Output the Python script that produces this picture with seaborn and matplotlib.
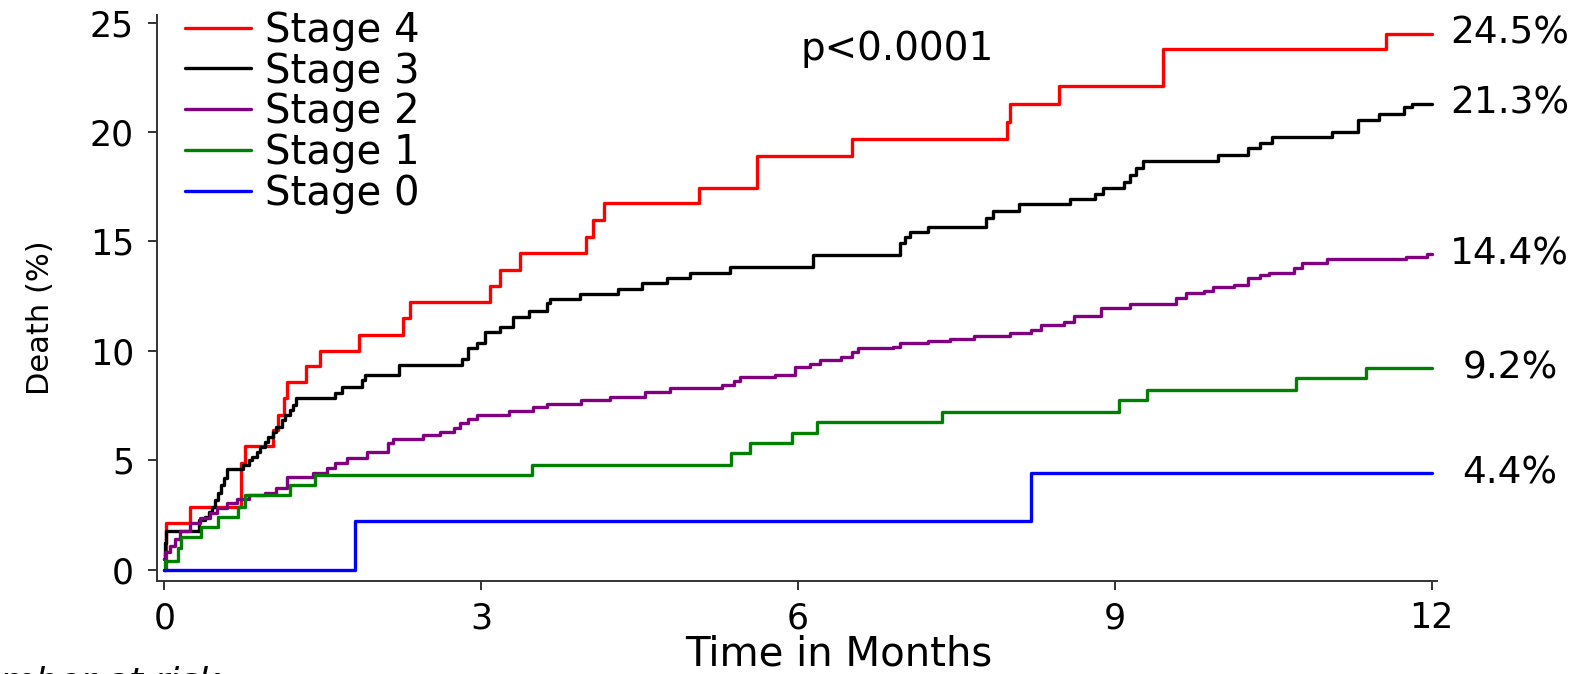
import matplotlib
matplotlib.use("Agg")
import matplotlib.pyplot as plt
import numpy as np
import pandas as pd
import seaborn as sns

# cumulative death (%) by stage
stage4_t = [0, 0.02, 0.24, 0.73, 0.76, 1.03, 1.08, 1.13, 1.16, 1.34, 1.47, 1.84, 2.26, 2.33,
            3.08, 3.18, 3.37, 3.99, 4.06, 4.16, 5.06, 5.61, 6.51, 7.98, 8.01, 8.47, 9.46, 11.57, 12.0]
stage4_v = [0, 2.15, 2.88, 4.86, 5.67, 6.38, 7.07, 7.83, 8.59, 9.31, 10.01, 10.73, 11.49, 12.25,
            12.97, 13.7, 14.49, 15.22, 15.98, 16.75, 17.43, 18.9, 19.68, 20.48, 21.3, 22.1, 23.78, 24.5, 24.5]

stage3_t = [0, 0.01, 0.02, 0.33, 0.385, 0.42, 0.45, 0.48, 0.51, 0.54, 0.565, 0.59, 0.75, 0.80,
            0.83, 0.875, 0.91, 0.95, 0.985, 1.03, 1.06, 1.11, 1.14, 1.19, 1.22, 1.25, 1.62, 1.68,
            1.87, 1.90, 2.22, 2.82, 2.88, 2.96, 3.04, 3.18, 3.30, 3.45, 3.62, 3.65, 3.94, 4.30,
            4.52, 4.76, 4.98, 5.36, 6.14, 6.97, 7.01, 7.06, 7.23, 7.78, 7.85, 8.09, 8.58, 8.81,
            8.89, 9.09, 9.14, 9.20, 9.27, 9.98, 10.26, 10.37, 10.49, 11.06, 11.30, 11.50, 11.74,
            11.81, 12.0]
stage3_v = [0.5, 1.2, 1.78, 2.27, 2.42, 2.65, 2.88, 3.19, 3.49, 3.87, 4.18, 4.6, 4.78, 5.01,
            5.16, 5.39, 5.62, 5.85, 6.08, 6.31, 6.54, 6.84, 7.07, 7.30, 7.53, 7.83, 8.06, 8.36,
            8.67, 8.9, 9.33, 9.62, 10.14, 10.35, 10.88, 11.1, 11.56, 11.84, 12.17, 12.36, 12.59, 12.82,
            13.09, 13.34, 13.54, 13.85, 14.38, 14.92, 15.22, 15.45, 15.68, 16.06, 16.41, 16.70, 16.93, 17.17,
            17.46, 17.73, 18.04, 18.35, 18.69, 18.95, 19.26, 19.52, 19.76, 20.02, 20.55, 20.83, 21.13,
            21.3, 21.3]

stage2_t = [0, 0.01, 0.05, 0.10, 0.15, 0.24, 0.34, 0.43, 0.50, 0.59, 0.69, 0.80, 0.95, 1.06,
            1.16, 1.41, 1.54, 1.62, 1.73, 1.92, 2.12, 2.17, 2.45, 2.61, 2.74, 2.80, 2.88, 2.96,
            3.26, 3.49, 3.62, 3.95, 4.22, 4.55, 4.79, 5.28, 5.39, 5.45, 5.78, 5.97, 6.11, 6.21,
            6.41, 6.51, 6.57, 6.90, 6.97, 7.23, 7.44, 7.67, 8.01, 8.21, 8.30, 8.52, 8.61, 8.87,
            9.14, 9.58, 9.67, 9.84, 9.93, 10.13, 10.26, 10.37, 10.46, 10.70, 10.77, 11.01, 11.76,
            11.96, 12.0]
stage2_v = [0.5, 0.8, 1.1, 1.4, 1.75, 2.12, 2.35, 2.58, 2.81, 3.03, 3.22, 3.41, 3.52, 3.72,
            4.25, 4.40, 4.63, 4.86, 5.09, 5.39, 5.78, 5.96, 6.16, 6.31, 6.46, 6.69, 6.87, 7.07,
            7.27, 7.42, 7.57, 7.76, 7.91, 8.14, 8.29, 8.44, 8.64, 8.82, 8.9, 9.28, 9.40, 9.58,
            9.71, 9.96, 10.12, 10.16, 10.35, 10.47, 10.54, 10.68, 10.80, 10.96, 11.18, 11.33, 11.60, 11.95,
            12.14, 12.40, 12.63, 12.75, 12.91, 13.01, 13.32, 13.47, 13.57, 13.78, 14.0, 14.19, 14.31,
            14.42, 14.42]

stage1_t = [0, 0.01, 0.13, 0.16, 0.35, 0.51, 0.70, 0.76, 1.19, 1.43, 3.48, 5.37, 5.55, 5.94,
            6.18, 7.36, 9.04, 9.30, 10.72, 11.38, 12.0]
stage1_v = [0, 0.4, 0.98, 1.51, 1.97, 2.42, 2.88, 3.41, 3.87, 4.33, 4.78, 5.32, 5.78, 6.26,
            6.74, 7.19, 7.73, 8.21, 8.75, 9.2, 9.2]

stage0_t = [0, 1.81, 8.21, 12.0]
stage0_v = [0, 2.2, 4.4, 4.4]

stages = ['Stage 4', 'Stage 3', 'Stage 2', 'Stage 1', 'Stage 0']
colors = ['#ff0000', '#000000', '#800080', '#008000', '#0000ff']
end_labels = ['24.5%', '21.3%', '14.4%', '9.2%', '4.4%']
end_values = [24.5, 21.3, 14.4, 9.2, 4.4]
x_ticks = [0, 3, 6, 9, 12]
y_ticks = [0, 5, 10, 15, 20, 25]

curves = {
    'Stage 4': (stage4_t, stage4_v),
    'Stage 3': (stage3_t, stage3_v),
    'Stage 2': (stage2_t, stage2_v),
    'Stage 1': (stage1_t, stage1_v),
    'Stage 0': (stage0_t, stage0_v),
}
df = pd.concat(
    [pd.DataFrame({'months': t, 'death': v, 'stage': s}) for s, (t, v) in curves.items()],
    ignore_index=True,
)

sns.set_theme(style='ticks')
plt.rcParams['font.family'] = ['DejaVu Sans']
plt.rcParams['text.color'] = 'black'
plt.rcParams['axes.labelcolor'] = 'black'
plt.rcParams['xtick.color'] = 'black'
plt.rcParams['ytick.color'] = 'black'

fig = plt.figure(figsize=(15.81, 6.74), dpi=100)
ax = fig.add_axes([0.0993, 0.138, 0.8096, 0.8398])

sns.lineplot(data=df, x='months', y='death', hue='stage', hue_order=stages,
             palette=dict(zip(stages, colors)), estimator=None, sort=False,
             drawstyle='steps-post', linewidth=2.4, ax=ax)

ax.set_xlim(-0.069, 12.05)
ax.set_ylim(-0.52, 25.35)
ax.set_xticks(x_ticks)
ax.set_yticks(y_ticks)
ax.tick_params(axis='both', labelsize=25, length=6.5, width=1.4, color='#333333')
ax.tick_params(axis='y', pad=10)
ax.tick_params(axis='x', pad=8)
sns.despine(ax=ax)
for side in ['left', 'bottom']:
    ax.spines[side].set_linewidth(1.4)
    ax.spines[side].set_color('#333333')

ax.set_xlabel('Time in Months', fontsize=29)
ax.xaxis.set_label_coords(0.533, -0.095)
ax.set_ylabel('Death (%)', fontsize=22)
ax.yaxis.set_label_coords(-0.0797, 0.465)

leg = ax.legend(loc='upper left', bbox_to_anchor=(0.0219, 1.0075), frameon=False,
                fontsize=29, borderpad=0, borderaxespad=0, handlelength=1.64,
                handletextpad=0.35, labelspacing=0.02)
for line in leg.get_lines():
    line.set_linewidth(2.4)

ax.text(6.94, 23.27, 'p<0.0001', ha='center', va='baseline', fontsize=28)
for lab, val in zip(end_labels, end_values):
    ax.text(12.74, val, lab, ha='center', va='center', fontsize=27, clip_on=False)

fig.text(-0.0316, 0.0119, 'Number at risk:', ha='left', va='top', fontsize=26, style='italic')

fig.savefig('out.png', dpi=100)
